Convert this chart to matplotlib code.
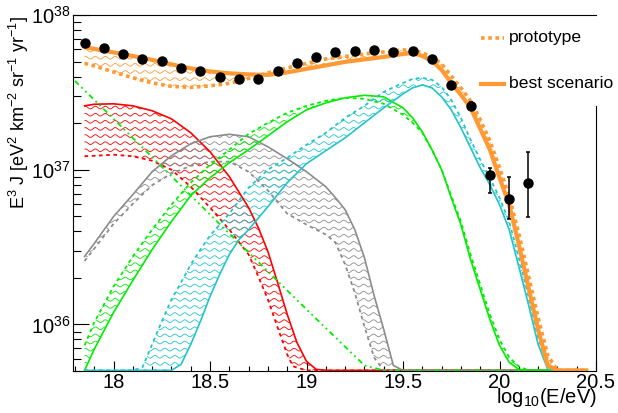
import numpy as np
import matplotlib.pyplot as plt
from matplotlib.lines import Line2D

plt.rcParams['font.family'] = ['Liberation Sans', 'DejaVu Sans']
plt.rcParams['mathtext.fontset'] = 'custom'
plt.rcParams['mathtext.rm'] = 'Liberation Sans'
plt.rcParams['mathtext.it'] = 'Liberation Sans:italic'
plt.rcParams['mathtext.bf'] = 'Liberation Sans:bold'
plt.rcParams['axes.linewidth'] = 0.8

# donnees : log10(E/eV) et log10(E^3 J)
x_data = [17.85, 17.95, 18.05, 18.15, 18.25, 18.35, 18.45, 18.55, 18.65, 18.75, 18.85, 18.95,
          19.05, 19.15, 19.25, 19.35, 19.45, 19.55, 19.65, 19.75, 19.85, 19.95, 20.05, 20.15]
y_data = [37.817, 37.785, 37.748, 37.718, 37.705, 37.660, 37.639, 37.600, 37.585, 37.587, 37.639, 37.688,
          37.731, 37.763, 37.768, 37.774, 37.763, 37.768, 37.716, 37.548, 37.413, 36.968, 36.813, 36.916]
y_err_lo = [37.817, 37.785, 37.748, 37.718, 37.705, 37.660, 37.639, 37.600, 37.585, 37.587, 37.639, 37.688,
            37.731, 37.763, 37.768, 37.774, 37.763, 37.768, 37.716, 37.540, 37.385, 36.852, 36.684, 36.697]
y_err_hi = [37.817, 37.785, 37.748, 37.718, 37.705, 37.660, 37.639, 37.600, 37.585, 37.587, 37.639, 37.688,
            37.731, 37.763, 37.768, 37.774, 37.763, 37.768, 37.716, 37.556, 37.440, 37.013, 36.955, 37.116]

# total (orange)
x_tot_best = [17.85, 17.9, 18.0, 18.1, 18.2, 18.3, 18.4, 18.5, 18.6, 18.7, 18.8, 18.9, 19.0, 19.1, 19.2,
              19.3, 19.4, 19.5, 19.55, 19.6, 19.65, 19.7, 19.75, 19.8, 19.85, 19.9, 19.95, 20.0, 20.05,
              20.1, 20.15, 20.2, 20.25, 20.3, 20.45]
y_tot_best = [37.794, 37.781, 37.758, 37.735, 37.710, 37.681, 37.655, 37.635, 37.623, 37.616, 37.613,
              37.629, 37.652, 37.674, 37.697, 37.713, 37.729, 37.748, 37.755, 37.735, 37.703, 37.645,
              37.561, 37.484, 37.400, 37.265, 37.129, 36.948, 36.774, 36.516, 36.239, 35.968, 35.735,
              35.3, 35.0]
x_tot_proto = [17.85, 17.9, 18.0, 18.1, 18.2, 18.3, 18.4, 18.5, 18.6, 18.7, 18.8, 18.9, 19.0, 19.1, 19.2,
               19.3, 19.4, 19.5, 19.55, 19.6, 19.65, 19.7, 19.75, 19.8, 19.85, 19.9, 19.95, 20.0, 20.05,
               20.1, 20.15, 20.2, 20.25, 20.3, 20.45]
y_tot_proto = [37.688, 37.671, 37.632, 37.594, 37.561, 37.539, 37.532, 37.542, 37.558, 37.590, 37.626,
               37.658, 37.687, 37.716, 37.732, 37.748, 37.761, 37.774, 37.774, 37.755, 37.729, 37.684,
               37.606, 37.529, 37.445, 37.323, 37.187, 37.013, 36.826, 36.587, 36.316, 36.045, 35.800,
               35.3, 35.0]

# rouge
x_red_best = [17.85, 17.9, 18.0, 18.1, 18.2, 18.3, 18.4, 18.5, 18.6, 18.7, 18.75, 18.8, 18.85, 18.9,
              18.95, 19.0, 19.05, 19.1, 20.45]
y_red_best = [37.413, 37.423, 37.426, 37.413, 37.381, 37.329, 37.239, 37.116, 36.955, 36.755, 36.626,
              36.471, 36.271, 36.065, 35.884, 35.761, 35.710, 35.3, 35.0]
x_red_proto = [17.85, 17.9, 18.0, 18.1, 18.2, 18.3, 18.4, 18.5, 18.6, 18.7, 18.75, 18.8, 18.85, 18.9,
               18.93, 19.0, 20.45]
y_red_proto = [37.087, 37.090, 37.097, 37.087, 37.058, 37.000, 36.890, 36.755, 36.613, 36.452, 36.310,
               36.161, 35.981, 35.806, 35.729, 35.3, 35.0]

# gris
x_grey_best = [17.85, 17.9, 18.0, 18.1, 18.2, 18.3, 18.4, 18.5, 18.6, 18.7, 18.8, 18.9, 19.0, 19.1,
               19.15, 19.2, 19.25, 19.3, 19.35, 19.4, 19.45, 19.5, 20.45]
y_grey_best = [36.439, 36.523, 36.697, 36.839, 36.987, 37.090, 37.168, 37.213, 37.229, 37.213, 37.148,
               37.071, 36.987, 36.890, 36.819, 36.742, 36.613, 36.432, 36.187, 35.968, 35.735, 35.3, 35.0]
x_grey_proto = [17.85, 17.9, 18.0, 18.1, 18.2, 18.3, 18.4, 18.5, 18.6, 18.7, 18.8, 18.9, 19.0, 19.1,
                19.15, 19.2, 19.25, 19.3, 19.35, 19.4, 20.45]
y_grey_proto = [36.410, 36.490, 36.650, 36.780, 36.900, 36.975, 37.025, 37.052, 37.052, 36.987, 36.865,
                36.716, 36.645, 36.581, 36.529, 36.387, 36.206, 35.987, 35.787, 35.3, 35.0]

# vert
x_green_best = [17.85, 17.9, 18.0, 18.1, 18.2, 18.3, 18.4, 18.5, 18.6, 18.7, 18.8, 18.9, 19.0, 19.1,
                19.2, 19.3, 19.4, 19.5, 19.55, 19.6, 19.65, 19.7, 19.75, 19.8, 19.85, 19.9, 19.95,
                20.0, 20.05, 20.1, 20.15, 20.45]
y_green_best = [35.700, 35.839, 36.077, 36.284, 36.484, 36.665, 36.832, 36.948, 37.045, 37.129, 37.219,
                37.310, 37.387, 37.432, 37.465, 37.481, 37.471, 37.400, 37.335, 37.245, 37.129, 37.000,
                36.819, 36.645, 36.419, 36.226, 36.032, 35.865, 35.755, 35.710, 35.3, 35.0]
x_green_proto = [17.85, 17.9, 18.0, 18.1, 18.2, 18.3, 18.4, 18.5, 18.6, 18.7, 18.8, 18.9, 19.0, 19.1,
                 19.2, 19.3, 19.4, 19.5, 19.55, 19.6, 19.65, 19.7, 19.75, 19.8, 19.85, 19.9, 19.95,
                 20.0, 20.05, 20.1, 20.15, 20.45]
y_green_proto = [35.865, 36.013, 36.245, 36.439, 36.613, 36.774, 36.916, 37.032, 37.129, 37.232, 37.303,
                 37.368, 37.413, 37.445, 37.465, 37.458, 37.426, 37.355, 37.303, 37.239, 37.129, 37.000,
                 36.832, 36.665, 36.452, 36.258, 36.065, 35.903, 35.787, 35.729, 35.3, 35.0]
x_green_dd = [17.8, 18.0, 18.5, 19.0, 19.3, 19.4, 20.45]
y_green_dd = [37.574, 37.329, 36.710, 36.097, 35.735, 35.3, 35.0]

# cyan
x_cyan_best = [17.85, 18.3, 18.35, 18.4, 18.45, 18.5, 18.55, 18.6, 18.65, 18.7, 18.8, 18.9, 19.0, 19.1,
               19.2, 19.3, 19.4, 19.5, 19.55, 19.6, 19.65, 19.7, 19.75, 19.8, 19.85, 19.9, 19.95, 20.0,
               20.05, 20.1, 20.15, 20.2, 20.25, 20.3, 20.45]
y_cyan_best = [35.0, 35.0, 35.742, 35.871, 36.019, 36.181, 36.323, 36.452, 36.548, 36.613, 36.761,
               36.916, 37.039, 37.123, 37.206, 37.303, 37.400, 37.490, 37.529, 37.548, 37.529, 37.471,
               37.387, 37.271, 37.142, 37.013, 36.903, 36.774, 36.613, 36.374, 36.129, 35.871, 35.710,
               35.3, 35.0]
x_cyan_proto = [17.85, 18.1, 18.15, 18.2, 18.25, 18.3, 18.35, 18.4, 18.45, 18.5, 18.6, 18.7, 18.8, 18.9,
                19.0, 19.1, 19.2, 19.3, 19.4, 19.5, 19.55, 19.6, 19.65, 19.7, 19.75, 19.8, 19.85, 19.9,
                19.95, 20.0, 20.05, 20.1, 20.15, 20.2, 20.25, 20.3, 20.45]
y_cyan_proto = [35.0, 35.0, 35.723, 35.871, 36.019, 36.161, 36.271, 36.387, 36.484, 36.574, 36.716,
                36.884, 37.000, 37.077, 37.161, 37.239, 37.335, 37.413, 37.503, 37.561, 37.587, 37.594,
                37.581, 37.535, 37.452, 37.335, 37.194, 37.065, 36.948, 36.819, 36.665, 36.432, 36.181,
                35.916, 35.723, 35.3, 35.0]

orange = '#ff9933'
red = '#ff0000'
grey = '#8c8c8c'
green = '#00ee00'
cyan = '#22c4cc'

ymin, ymax = 5e35, 1e38
plancher = np.log10(ymin) + 0.004

fig = plt.figure(figsize=(6.18, 4.13), dpi=100)
ax = fig.add_axes([73/618, 42/413, 523/618, 356/413])
ax.set_yscale('log')

t = np.linspace(0, 1, 1600)


def bande(xs, ys, xd, yd, couleur):
    px = np.concatenate([xs, xd[::-1]])
    py = np.maximum(np.concatenate([ys, yd[::-1]]), plancher)
    patch, = ax.fill(px, 10**py, facecolor='none', edgecolor='none')
    # hachures ondulees facon ROOT
    for k in range(52):
        y0 = k * 0.0200
        ln, = ax.plot(t, y0 + 0.0038*np.sin(2*np.pi*t/0.019), transform=ax.transAxes,
                      color=couleur, lw=0.6, zorder=1)
        ln.set_clip_path(patch)


def courbe(x, y, couleur, **kw):
    y = np.maximum(np.array(y), plancher)
    ax.plot(x, 10**y, color=couleur, zorder=2, **kw)


composantes = [
    (x_red_best, y_red_best, x_red_proto, y_red_proto, red),
    (x_grey_best, y_grey_best, x_grey_proto, y_grey_proto, grey),
    (x_green_best, y_green_best, x_green_proto, y_green_proto, green),
    (x_cyan_best, y_cyan_best, x_cyan_proto, y_cyan_proto, cyan),
    (x_tot_best, y_tot_best, x_tot_proto, y_tot_proto, orange),
]
for xb, yb, xp, yp, c in composantes:
    bande(np.array(xb), np.array(yb), np.array(xp), np.array(yp), c)
for xb, yb, xp, yp, c in composantes[:-1]:
    courbe(xp, yp, c, lw=1.3, ls=(0, (2, 2)))
    courbe(xb, yb, c, lw=1.2)
courbe(x_green_dd, y_green_dd, green, lw=1.3, ls=(0, (3, 2, 1, 2, 1, 2)))
courbe(x_tot_proto, y_tot_proto, orange, lw=2.6, ls=(0, (1, 1)))
courbe(x_tot_best, y_tot_best, orange, lw=3)

yd = 10**np.array(y_data)
yerr = [yd - 10**np.array(y_err_lo), 10**np.array(y_err_hi) - yd]
ax.errorbar(x_data, yd, yerr=yerr, fmt='o', color='black', ms=6.5, lw=1.1,
            capsize=1.6, capthick=1.1, zorder=4)

ax.set_xlim(17.79, 20.5)
ax.set_ylim(ymin, ymax)
ax.set_xticks([18, 18.5, 19, 19.5, 20, 20.5])
ax.set_xticklabels(['18', '18.5', '19', '19.5', '20', '20.5'])
ax.set_xticks(np.arange(17.8, 20.51, 0.1), minor=True)
ax.tick_params(axis='x', which='major', direction='in', length=7.2, width=0.8, labelsize=14.5, pad=1.5)
ax.tick_params(axis='x', which='minor', direction='in', length=3.6, width=0.8)
ax.tick_params(axis='y', which='major', direction='in', length=11.5, width=0.8, labelsize=14.5, pad=2)
ax.tick_params(axis='y', which='minor', direction='in', length=5.8, width=0.8)
ax.spines['right'].set_bounds(ymin, 10**37.413)

fig.text(19/618, 1 - 16/413, r'E$^{3}$ J [eV$^{2}$ km$^{-2}$ sr$^{-1}$ yr$^{-1}$]',
         rotation=90, ha='center', va='top', fontsize=13)
fig.text(597/618, 10/413, r'log$_{10}$(E/eV)', ha='right', va='baseline', fontsize=14.5)

# legende
fig.add_artist(Line2D([481/618, 504/618], [1 - 37.5/413]*2, transform=fig.transFigure,
                      color=orange, lw=2.6, ls=(0, (1, 1))))
fig.add_artist(Line2D([481/618, 504/618], [1 - 84/413]*2, transform=fig.transFigure,
                      color=orange, lw=3))
fig.text(509/618, 1 - 37.5/413, 'prototype', va='center', ha='left', fontsize=12.6)
fig.text(509/618, 1 - 84/413, 'best scenario', va='center', ha='left', fontsize=12.6)

fig.savefig('out.png', dpi=100)
